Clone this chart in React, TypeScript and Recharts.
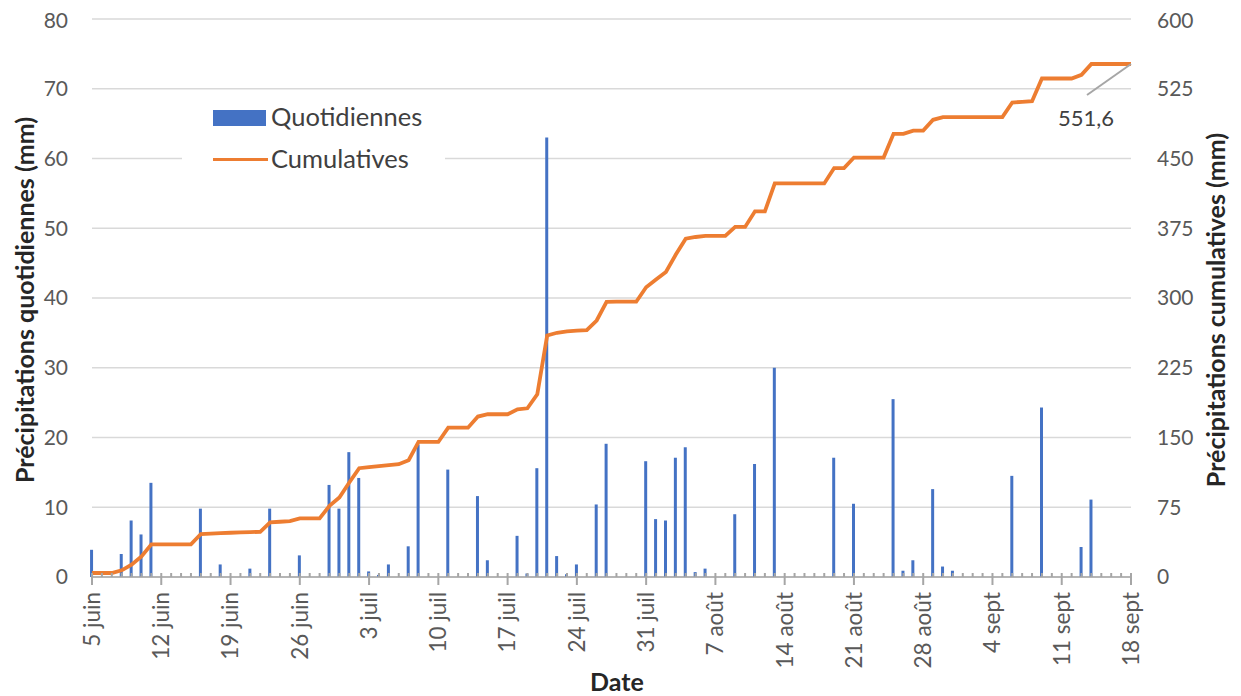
import React from "react";
import {
  ComposedChart,
  Bar,
  Line,
  XAxis,
  YAxis,
  CartesianGrid,
  Legend,
  LabelList,
} from "recharts";

// Daily precipitation (mm), one value per day from 5 June (index 0) to 18 September (index 105)
const daily: number[] = [
  3.9, 0, 0, 3.3, 8.1, 6.1, 13.5, 0, 0, 0,
  0, 9.8, 0, 1.8, 0, 0, 1.2, 0, 9.8, 0,
  0, 3.1, 0, 0, 13.2, 9.8, 17.9, 14.2, 0.8, 0.3,
  1.8, 0, 4.4, 19.0, 0, 0, 15.4, 0, 0, 11.6,
  2.4, 0, 0, 5.9, 0.5, 15.6, 63.0, 3.0, 0.4, 1.8,
  0, 10.4, 19.1, 0, 0, 0, 16.6, 8.3, 8.1, 17.1,
  18.6, 0.7, 1.2, 0, 0, 9.0, 0, 16.2, 0, 30.0,
  0, 0, 0, 0, 0, 17.1, 0, 10.5, 0, 0,
  0, 25.5, 0.9, 2.4, 0, 12.6, 1.5, 0.9, 0, 0,
  0, 0, 0, 14.5, 0, 0, 24.3, 0, 0, 0,
  4.3, 11.1, 0, 0, 0, 0,
];

// Cumulative precipitation (mm)
const cumulative: number[] = [
  4.3, 4.3, 4.3, 7.2, 13.2, 22.2, 35.1, 35.1, 35.1, 35.1,
  35.1, 46.2, 46.7, 47.2, 47.6, 48.0, 48.3, 48.6, 58.7, 59.4,
  60.1, 63.0, 63.0, 63.0, 76.5, 85.5, 101.6, 117.0, 118.2, 119.3,
  120.4, 121.3, 125.6, 145.2, 145.2, 145.2, 160.6, 160.6, 160.6, 172.5,
  175.0, 175.0, 175.0, 180.3, 181.4, 196.4, 259.7, 262.6, 264.0, 265.0,
  265.4, 275.8, 295.9, 296.0, 296.0, 296.0, 311.6, 319.8, 328.0, 346.7,
  363.8, 365.6, 366.7, 366.7, 366.7, 376.4, 376.4, 393.2, 393.2, 423.2,
  423.2, 423.2, 423.2, 423.2, 423.2, 439.7, 439.7, 451.0, 451.0, 451.0,
  451.0, 476.5, 476.5, 480.0, 480.0, 491.6, 494.5, 494.5, 494.5, 494.5,
  494.5, 494.5, 494.5, 510.2, 511.0, 511.6, 536.0, 536.0, 536.0, 536.0,
  540.0, 551.6, 551.6, 551.6, 551.6, 551.6,
];

// Weekly tick labels (every 7 days from 5 June)
const tickLabels: string[] = [
  "5 juin", "12 juin", "19 juin", "26 juin", "3 juil", "10 juil", "17 juil", "24 juil",
  "31 juil", "7 août", "14 août", "21 août", "28 août", "4 sept", "11 sept", "18 sept",
];

const leftTicks: number[] = [0, 10, 20, 30, 40, 50, 60, 70, 80];
const rightTicks: number[] = [0, 75, 150, 225, 300, 375, 450, 525, 600];

const data = daily.map((v, i) => ({ day: i, daily: v, cumul: cumulative[i] }));
const allDays = data.map((d) => d.day);

const FONT = "Lato, 'Open Sans', sans-serif";
const TICK_COLOR = "#595959";
const AXIS_COLOR = "#A6A6A6";

const XTick = (props: any) => {
  const { x, y, payload } = props;
  const d = payload.value as number;
  const major = d % 7 === 0;
  const ty = y + 15;
  return (
    <g>
      <line x1={x} x2={x} y1={y - 4} y2={major ? y + 8 : y} stroke={AXIS_COLOR} strokeWidth={2} />
      {major && (
        <text
          x={x}
          y={ty}
          transform={`rotate(-90, ${x}, ${ty})`}
          textAnchor="end"
          dy="0.35em"
          fontFamily={FONT}
          fontSize={22.5}
          fill={TICK_COLOR}
        >
          {tickLabels[d / 7]}
        </text>
      )}
    </g>
  );
};

const EndLabel = (props: any) => {
  const { x, y, index } = props;
  if (index !== cumulative.length - 1) return null;
  const v = cumulative[cumulative.length - 1];
  return (
    <g>
      <line x1={x} y1={y} x2={x - 44} y2={y + 31} stroke={AXIS_COLOR} strokeWidth={2} />
      <text
        x={x - 45}
        y={y + 53}
        textAnchor="middle"
        dominantBaseline="central"
        fontFamily={FONT}
        fontSize={22}
        fill="#404040"
      >
        {String(v).replace(".", ",")}
      </text>
    </g>
  );
};

const renderLegend = () => (
  <div
    style={{
      background: "#fff",
      width: 263,
      height: 82,
      position: "relative",
      fontFamily: FONT,
      fontSize: 25.5,
      color: "#404040",
    }}
  >
    <div style={{ position: "absolute", left: 31, top: 14, width: 53, height: 16, background: "#4472C4" }} />
    <div style={{ position: "absolute", left: 89, top: 21, transform: "translateY(-50%)", lineHeight: 1, whiteSpace: "nowrap" }}>
      Quotidiennes
    </div>
    <div style={{ position: "absolute", left: 31, top: 62, width: 55, height: 3, background: "#ED7D31" }} />
    <div style={{ position: "absolute", left: 89, top: 63, transform: "translateY(-50%)", lineHeight: 1, whiteSpace: "nowrap" }}>
      Cumulatives
    </div>
  </div>
);

const W = 1225;
const H = 688;

export default function App() {
  return (
    <div style={{ position: "relative", width: W, height: H }}>
      <ComposedChart width={W} height={H} data={data} margin={{ top: 11, right: 0, bottom: 0, left: 0 }}>
        <CartesianGrid vertical={false} stroke="#D9D9D9" strokeWidth={1.5} />
        <XAxis
          type="number"
          dataKey="day"
          domain={[0, 105]}
          ticks={allDays}
          interval={0}
          tick={<XTick />}
          tickLine={false}
          tickSize={0}
          tickMargin={0}
          axisLine={{ stroke: AXIS_COLOR, strokeWidth: 1.5 }}
          height={119}
          allowDecimals={false}
        />
        <YAxis
          domain={[0, 80]}
          ticks={leftTicks}
          width={84}
          axisLine={false}
          tickLine={false}
          tickSize={0}
          tickMargin={24}
          tick={{ fill: TICK_COLOR, fontSize: 21, fontFamily: FONT }}
        />
        <YAxis
          yAxisId="right"
          orientation="right"
          domain={[0, 600]}
          ticks={rightTicks}
          width={102}
          axisLine={false}
          tickLine={false}
          tickSize={0}
          tickMargin={26}
          tick={{ fill: TICK_COLOR, fontSize: 21, fontFamily: FONT }}
        />
        <Legend
          layout="vertical"
          align="center"
          verticalAlign="middle"
          content={renderLegend}
          wrapperStyle={{ left: 174, top: 88, width: 263, height: 82 }}
        />
        <Bar dataKey="daily" name="Quotidiennes" fill="#4472C4" barSize={3} isAnimationActive={false} />
        <Line
          yAxisId="right"
          type="linear"
          dataKey="cumul"
          name="Cumulatives"
          stroke="#ED7D31"
          strokeWidth={3.8}
          dot={false}
          isAnimationActive={false}
        >
          <LabelList dataKey="cumul" content={<EndLabel />} />
        </Line>
      </ComposedChart>
      <svg
        width={W}
        height={H}
        style={{ position: "absolute", left: 0, top: 0, pointerEvents: "none" }}
      >
        <text
          x={16}
          y={292}
          transform="rotate(-90, 16, 292)"
          textAnchor="middle"
          dominantBaseline="central"
          fontFamily={FONT}
          fontWeight={700}
          fontSize={25}
          fill="#262626"
        >
          Précipitations quotidiennes (mm)
        </text>
        <text
          x={1207}
          y={302}
          transform="rotate(-90, 1207, 302)"
          textAnchor="middle"
          dominantBaseline="central"
          fontFamily={FONT}
          fontWeight={700}
          fontSize={25}
          fill="#262626"
        >
          Précipitations cumulatives (mm)
        </text>
        <text
          x={609}
          y={673}
          textAnchor="middle"
          dominantBaseline="central"
          fontFamily={FONT}
          fontWeight={700}
          fontSize={25}
          fill="#262626"
        >
          Date
        </text>
      </svg>
    </div>
  );
}
